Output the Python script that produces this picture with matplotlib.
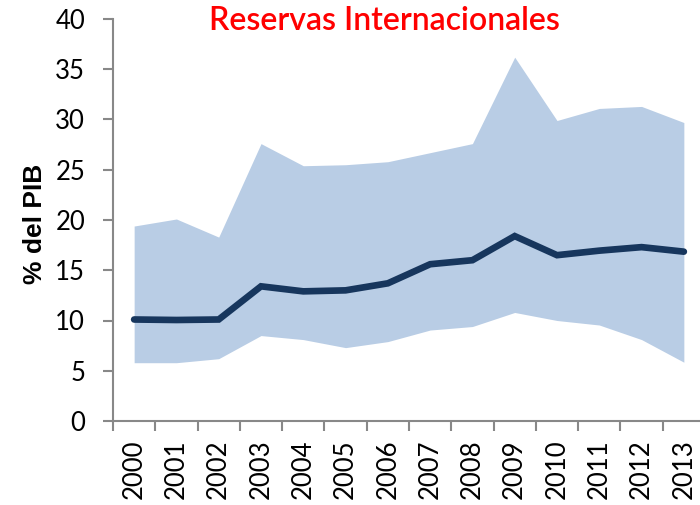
import matplotlib
matplotlib.use("Agg")
import matplotlib.pyplot as plt
import numpy as np

years = ["2000", "2001", "2002", "2003", "2004", "2005", "2006",
         "2007", "2008", "2009", "2010", "2011", "2012", "2013"]
upper = [19.4, 20.1, 18.3, 27.6, 25.4, 25.5, 25.8, 26.7, 27.6, 36.2, 29.9, 31.1, 31.3, 29.7]
lower = [5.8, 5.8, 6.2, 8.5, 8.1, 7.3, 7.9, 9.05, 9.4, 10.8, 10.0, 9.55, 8.1, 5.85]
median = [10.1, 10.05, 10.1, 13.4, 12.9, 13.0, 13.7, 15.6, 16.0, 18.4, 16.5, 16.95, 17.3, 16.85]
yticks = [0, 5, 10, 15, 20, 25, 30, 35, 40]

fig = plt.figure(figsize=(7.0, 5.05), dpi=100)
ax = fig.add_axes([113/700, (505-421)/505, (705-113)/700, (421-19)/505])

x = np.arange(len(years))
ax.fill_between(x, lower, upper, color="#b9cde5", linewidth=0)
ax.plot(x, median, color="#17365d", linewidth=4.8, solid_capstyle="round", solid_joinstyle="miter")

ax.set_xlim(-0.5, len(years) - 0.5)
ax.set_ylim(0, 40)
ax.set_yticks(yticks)
ax.set_yticklabels([str(v) for v in yticks], fontsize=18.5, family="Lato")
ax.set_xticks(x)
ax.set_xticklabels(years, rotation=90, fontsize=18.5, family="Lato")
ax.set_xticks(np.arange(-0.5, len(years), 1.0), minor=True)
ax.tick_params(axis="x", which="major", length=0, pad=13)
ax.tick_params(axis="x", which="minor", length=7, width=1.5, color="#888888", direction="out")
ax.tick_params(axis="y", which="major", length=7, width=1.5, color="#888888", pad=13)

for s in ["top", "right"]:
    ax.spines[s].set_visible(False)
for s in ["left", "bottom"]:
    ax.spines[s].set_color("#888888")
    ax.spines[s].set_linewidth(1.5)

ax.set_ylabel("% del PIB", fontsize=19, fontweight="bold", family="Liberation Sans")
ax.yaxis.set_label_coords(-0.112, 0.49)

fig.text(0.549, 0.958, "Reservas Internacionales", color="#ff0000", fontsize=23,
         fontweight="semibold", family="Lato", ha="center", va="center")

fig.savefig("out.png", dpi=100)
